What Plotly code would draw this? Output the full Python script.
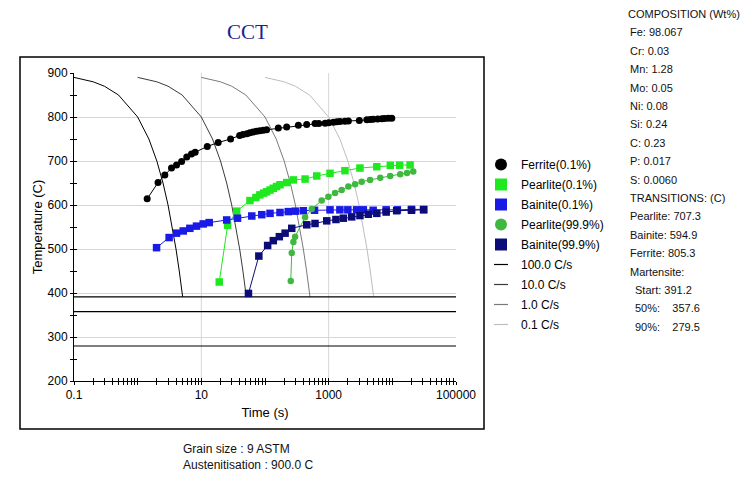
import math
import plotly.graph_objects as go

# -----------------------------
# DATA
# -----------------------------
ferrite_t = [1.41, 2.09, 2.67, 3.4, 4.08, 4.9, 5.9, 7.0, 8.0, 12.4, 18.4, 28.8, 40, 45, 52, 58, 65, 74, 83,
             94, 106, 162, 219, 334, 452, 611, 700, 880, 1000, 1190, 1350, 1510, 1800, 2040, 3030, 3980,
             4500, 5000, 5900, 6850, 7500, 8600, 9800]
ferrite_T = [614, 651, 668, 684, 691, 699, 709, 716, 720, 733, 742, 750, 758, 760, 762, 764, 766, 767.5, 769,
             770, 771, 775, 777, 781, 783, 785, 785.5, 786, 787, 788, 789, 790, 790.5, 791, 792, 794,
             794.5, 795, 795.5, 796, 796.5, 797, 797]

pearlite01_t = [19.1, 25.9, 35.9, 58, 72, 83, 95, 106, 120, 135, 152, 172, 219, 279, 426, 650, 1050,
                1800, 3100, 5700, 9300, 13000, 19000]
pearlite01_T = [425, 554, 586, 610, 617, 623, 627, 630, 634, 638, 642, 646, 651, 657, 659, 666, 672,
                678, 684, 687, 690, 690.5, 691]

bainite01_t = [1.98, 3.12, 4.08, 5.2, 6.6, 8.4, 10.7, 13.3, 25, 37, 62, 89, 120, 172, 232, 300, 400,
               600, 1050, 1500, 2000, 2750, 3500, 5000, 8000, 12000, 20000, 31000]
bainite01_T = [503, 526, 536, 541, 547, 552, 557, 560, 566, 570, 575, 578, 581, 583, 585, 586, 587,
               588, 589, 589, 589, 589, 589, 588, 589, 589, 590, 590]

pearlite999_t = [254, 263, 279, 297, 426, 542, 777, 990, 1260, 1600, 2040, 2600, 3300, 4470, 6460,
                 9250, 13300, 17000, 21300]
pearlite999_T = [427, 491, 516, 528, 572, 591, 610, 619, 627, 634, 642, 647, 653, 657, 662,
                 666, 670, 673, 676]

bainite999_t = [55, 80, 110, 135, 168, 207, 263, 453, 611, 933, 1300, 1700, 2300, 3100, 4200, 5700,
                8000, 11700, 20000, 31000]
bainite999_T = [399, 484, 508, 519, 528, 536, 547, 555, 558, 564, 567, 570, 573, 576, 579, 581,
                584, 587, 588, 589]

# cooling curves (all four share the temperature points)
cool_temp = [890, 880, 870, 850, 800, 750, 700, 650, 600, 550, 500, 450, 400, 391.2]
cool_t_100 = [0.1, 0.2, 0.3, 0.5, 1.0, 1.5, 2.0, 2.5, 3.0, 3.5, 4.0, 4.5, 5.0, 5.088]
cool_t_10 = [1, 2, 3, 5, 10, 15, 20, 25, 30, 35, 40, 45, 50, 50.88]
cool_t_1 = [10, 20, 30, 50, 100, 150, 200, 250, 300, 350, 400, 450, 500, 508.8]
cool_t_01 = [100, 200, 300, 500, 1000, 1500, 2000, 2500, 3000, 3500, 4000, 4500, 5000, 5088]
cool_labels = ["100.0 C/s", "10.0 C/s", "1.0 C/s", "0.1 C/s"]

martensite_temp = [391.2, 357.6, 279.5]
time_span = [0.1, 100000]

x_labels = {0.1: "0.1", 10: "10", 1000: "1000", 100000: "100000"}
x_grid = [10, 1000]

info_lines = [
    "COMPOSITION (Wt%)", "Fe: 98.067", "Cr: 0.03", "Mn: 1.28", "Mo: 0.05", "Ni: 0.08",
    "Si: 0.24", "C: 0.23", "P: 0.017", "S: 0.0060", "TRANSITIONS: (C)", "Pearlite: 707.3",
    "Bainite: 594.9", "Ferrite: 805.3", "Martensite:", "Start: 391.2",
    "50%:\u00a0\u00a0\u00a0\u00a0357.6", "90%:\u00a0\u00a0\u00a0\u00a0279.5",
]
footer_lines = ["Grain size : 9 ASTM", "Austenitisation : 900.0 C"]

# -----------------------------
# GEOMETRY (page pixels -> paper)
# -----------------------------
OFF = 8                      # default body margin of the html page
FW, FH = 752 - 2 * OFF, 491 - 2 * OFF
L, R, T, B = 74, 456, 73, 381   # plot area in page pixels


def px(x):
    return (x - L) / (R - L)


def py(y):
    return (B - y) / (B - T)


FONT = "Arial, Liberation Sans, sans-serif"

fig = go.Figure()

# cooling curves (legend entry drawn as a short dash like the original)
cool_times = [cool_t_100, cool_t_10, cool_t_1, cool_t_01]
cool_colors = ["#000000", "#3a3a3a", "#7a7a7a", "#bebebe"]
for i, (tt, lab, col) in enumerate(zip(cool_times, cool_labels, cool_colors)):
    fig.add_trace(go.Scatter(x=tt, y=cool_temp, mode="lines", line=dict(color=col, width=1),
                             legendgroup=lab, showlegend=False, hoverinfo="skip"))
    fig.add_trace(go.Scatter(x=[None], y=[None], mode="markers", name=lab, legendgroup=lab,
                             legendrank=10 + i,
                             marker=dict(symbol="line-ew", size=10, line=dict(color=col, width=1.2))))

# martensite lines
for mt in martensite_temp:
    fig.add_trace(go.Scatter(x=time_span, y=[mt, mt], mode="lines", line=dict(color="black", width=1.2),
                             showlegend=False, hoverinfo="skip"))

# transformation series
series = [
    ("Ferrite(0.1%)", ferrite_t, ferrite_T, "#000000", "circle", 7),
    ("Pearlite(0.1%)", pearlite01_t, pearlite01_T, "#1ee81e", "square", 7.5),
    ("Bainite(0.1%)", bainite01_t, bainite01_T, "#1a1ae6", "square", 7.5),
    ("Pearlite(99.9%)", pearlite999_t, pearlite999_T, "#40b840", "circle", 6.5),
    ("Bainite(99.9%)", bainite999_t, bainite999_T, "#0c0c78", "square", 7.5),
]
for i, (name, tt, TT, col, sym, size) in enumerate(series):
    fig.add_trace(go.Scatter(x=tt, y=TT, mode="lines+markers", legendgroup=name, showlegend=False,
                             line=dict(color=col, width=1), marker=dict(symbol=sym, size=size, color=col)))
    fig.add_trace(go.Scatter(x=[None], y=[None], mode="markers", name=name, legendgroup=name,
                             legendrank=i, marker=dict(symbol=sym, size=12, color=col)))

# dummy trace so the tick-only overlay axes get drawn (crossing ticks)
fig.add_trace(go.Scatter(x=[None], y=[None], xaxis="x2", yaxis="y2", showlegend=False, hoverinfo="skip"))

# log ticks 1..9 in each decade
xticks = [round(m * 10 ** e, 6) for e in range(-1, 5) for m in range(1, 10)] + [100000]
xtext = [x_labels.get(v, "") for v in xticks]
yticks = list(range(200, 901, 50))

axis_font = dict(family=FONT, size=12, color="black")
fig.update_layout(
    width=FW, height=FH,
    margin=dict(l=L - OFF, r=FW - (R - OFF), t=T - OFF, b=FH - (B - OFF)),
    paper_bgcolor="white", plot_bgcolor="white",
    font=dict(family=FONT, size=12, color="black"),
    xaxis=dict(type="log", range=[-1, 5], tickmode="array", tickvals=xticks, ticktext=xtext,
               ticks="outside", ticklen=3, tickcolor="black", showgrid=False, showline=True,
               linecolor="black", linewidth=1, tickfont=axis_font,
               title=dict(text="Time (s)", font=dict(family=FONT, size=13), standoff=6)),
    yaxis=dict(range=[200, 900], tick0=200, dtick=100, ticks="outside", ticklen=3, tickcolor="black",
               showgrid=True, gridcolor="#d6d6d6", gridwidth=1, zeroline=False, showline=True,
               linecolor="black", linewidth=1, tickfont=axis_font,
               minor=dict(dtick=50, ticks="outside", ticklen=3, tickcolor="black", showgrid=False),
               title=dict(text="Temperature (C)", font=dict(family=FONT, size=13), standoff=2)),
    xaxis2=dict(type="log", range=[-1, 5], overlaying="x", anchor="y", tickmode="array", tickvals=xticks,
                ticks="inside", ticklen=3, tickcolor="black", showticklabels=False, showgrid=False,
                showline=False),
    yaxis2=dict(range=[200, 900], overlaying="y", anchor="x", tickmode="array", tickvals=yticks,
                ticks="inside", ticklen=3, tickcolor="black", showticklabels=False, showgrid=False,
                showline=False, zeroline=False),
    legend=dict(x=px(481), y=py(150), xanchor="left", yanchor="top", bgcolor="rgba(0,0,0,0)",
                font=dict(family=FONT, size=12, color="black"), itemwidth=30, tracegroupgap=1),
    showlegend=True,
)

# vertical grid lines at the labelled decades, plus the outer frame
shapes = []
for v in x_grid:
    xp = (math.log10(v) + 1) / 6
    shapes.append(dict(type="line", xref="paper", yref="paper", x0=xp, x1=xp, y0=0, y1=1,
                       line=dict(color="#d6d6d6", width=1), layer="below"))
shapes.append(dict(type="rect", xref="paper", yref="paper", x0=px(20), x1=px(484), y0=py(429), y1=py(57),
                   line=dict(color="black", width=1.5)))
fig.update_layout(shapes=shapes)

annotations = [dict(text="CCT", x=px(247), y=py(32), xref="paper", yref="paper", showarrow=False,
                    xanchor="center", yanchor="middle",
                    font=dict(family="Liberation Serif, Times New Roman, serif", size=21, color="#1e1e8c"))]
for i, line in enumerate(info_lines):
    indent = 626 if i == 0 else (633 if line.startswith(("Start", "50%", "90%")) else 628)
    annotations.append(dict(text=line, x=px(indent), y=py(14 + 18.4 * i), xref="paper", yref="paper",
                            xanchor="left", yanchor="middle", showarrow=False,
                            font=dict(family=FONT, size=11, color="#111111")))
for i, line in enumerate(footer_lines):
    annotations.append(dict(text=line, x=px(181), y=py(449 + 15.5 * i), xref="paper", yref="paper",
                            xanchor="left", yanchor="middle", showarrow=False,
                            font=dict(family=FONT, size=12, color="#111111")))
fig.update_layout(annotations=annotations)

fig.write_html("out.html")
